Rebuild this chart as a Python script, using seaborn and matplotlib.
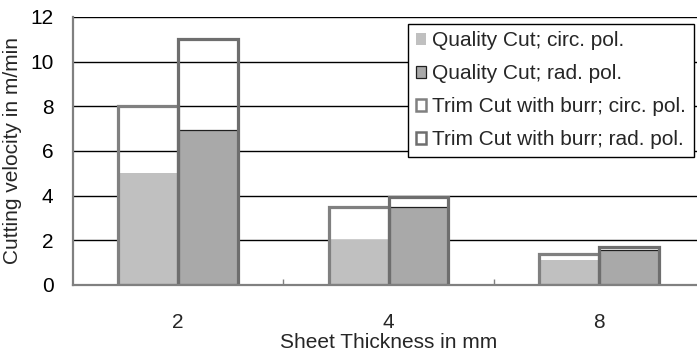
import matplotlib
matplotlib.use("Agg")
import matplotlib.pyplot as plt
from matplotlib.patches import Patch
from matplotlib.ticker import FixedLocator
import seaborn as sns
import pandas as pd

thickness = ["2", "4", "8"]
polarization = ["circ. pol.", "rad. pol."]
quality_circ = [5.0, 2.0, 1.1]
quality_rad = [6.95, 3.5, 1.55]
trim_circ = [8.0, 3.5, 1.4]
trim_rad = [11.0, 3.95, 1.68]
y_ticks = [0, 2, 4, 6, 8, 10, 12]

quality = pd.DataFrame({
    "thickness": thickness * 2,
    "pol": [polarization[0]] * 3 + [polarization[1]] * 3,
    "value": quality_circ + quality_rad,
})
trim = pd.DataFrame({
    "thickness": thickness * 2,
    "pol": [polarization[0]] * 3 + [polarization[1]] * 3,
    "value": trim_circ + trim_rad,
})

sns.set_theme(style="white")
plt.rcParams["font.family"] = ["Liberation Sans", "DejaVu Sans"]
FS = 15

fig = plt.figure(figsize=(6.97, 3.54), dpi=100)
ax = fig.add_axes([73 / 697, 69 / 354, 631 / 697, 268 / 354])

sns.barplot(data=quality, x="thickness", y="value", hue="pol",
            order=thickness, hue_order=polarization,
            palette=["#c0c0c0", "#a9a9a9"], width=0.57, gap=0,
            linewidth=0, errorbar=None, legend=False, ax=ax, zorder=2)
# thin dark edge on the radially polarized quality bars
for p in ax.containers[1]:
    p.set_edgecolor("#202020")
    p.set_linewidth(0.9)

sns.barplot(data=trim, x="thickness", y="value", hue="pol",
            order=thickness, hue_order=polarization,
            palette=["#808080", "#6e6e6e"], width=0.57, gap=0,
            fill=False, linewidth=2.3, errorbar=None, legend=False,
            ax=ax, zorder=3)

ax.set_ylim(0, 12)
ax.set_xlim(-0.5, 2.5)
ax.set_yticks(y_ticks)
ax.set_yticklabels([str(t) for t in y_ticks], fontsize=FS)
ax.yaxis.grid(True, color="black", linewidth=1.0, zorder=0)
ax.set_axisbelow(True)
ax.xaxis.grid(False)

ax.tick_params(axis="y", length=0, pad=14, colors="black", labelsize=FS)
ax.tick_params(axis="x", which="major", length=0, pad=20, labelsize=FS)
ax.xaxis.set_minor_locator(FixedLocator([0.5, 1.5]))
ax.tick_params(axis="x", which="minor", direction="in", length=4,
               width=1, color="#808080", bottom=True)

for s in ["top", "right"]:
    ax.spines[s].set_visible(False)
for s in ["left", "bottom"]:
    ax.spines[s].set_color("#808080")
    ax.spines[s].set_linewidth(1.6)
    ax.spines[s].set_zorder(4)

ax.set_xlabel("Sheet Thickness in mm", fontsize=FS, labelpad=1)
ax.set_ylabel("Cutting velocity in m/min", fontsize=FS, labelpad=6)

handles = [
    Patch(facecolor="#c0c0c0", edgecolor="none", linewidth=0),
    Patch(facecolor="#a9a9a9", edgecolor="#202020", linewidth=0.9),
    Patch(facecolor="white", edgecolor="#808080", linewidth=1.8),
    Patch(facecolor="white", edgecolor="#6e6e6e", linewidth=1.8),
]
labels = ["Quality Cut; circ. pol.", "Quality Cut; rad. pol.",
          "Trim Cut with burr; circ. pol.", "Trim Cut with burr; rad. pol."]
leg = fig.legend(handles, labels, loc="upper left",
                 bbox_to_anchor=(408 / 697, 1 - 24 / 354),
                 bbox_transform=fig.transFigure, borderaxespad=0,
                 fontsize=FS, frameon=True, fancybox=False, shadow=False,
                 handlelength=0.5, handleheight=0.5, handletextpad=0.3,
                 labelspacing=0.67, borderpad=0.36)
leg.get_frame().set_edgecolor("black")
leg.get_frame().set_linewidth(1.0)
leg.get_frame().set_facecolor("white")
leg.get_frame().set_alpha(1)

fig.savefig("out.png", dpi=100)
